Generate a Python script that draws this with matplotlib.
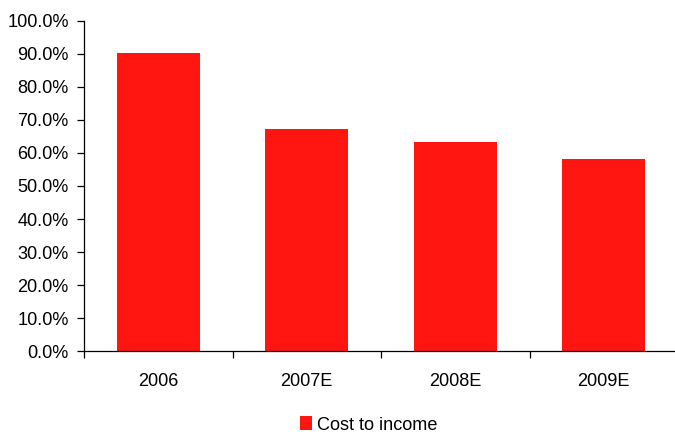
import matplotlib
matplotlib.use("Agg")
import matplotlib.pyplot as plt
from matplotlib.ticker import FuncFormatter, MultipleLocator, FixedLocator
import numpy as np

categories = ["2006", "2007E", "2008E", "2009E"]
cost_to_income = [90.2, 67.2, 63.3, 58.2]
series_name = "Cost to income"

plt.rcParams['font.family'] = ['Liberation Sans', 'DejaVu Sans']
FS = 13.1

fig = plt.figure(figsize=(6.75, 4.34), dpi=100)
ax = fig.add_axes([84/675, 1-351.3/434, (678-84)/675, (351.3-20.7)/434])

x = np.arange(len(categories))
ax.bar(x, cost_to_income, width=0.56, color="#FF1610", label=series_name, zorder=2)

ax.set_xlim(-0.5, len(categories) - 0.5)
ax.set_ylim(0, 100)
ax.yaxis.set_major_locator(MultipleLocator(10))
ax.yaxis.set_major_formatter(FuncFormatter(lambda v, p: f"{v:.1f}%"))

ax.xaxis.set_major_locator(FixedLocator(x))
ax.set_xticklabels(categories)
ax.xaxis.set_minor_locator(FixedLocator(np.arange(-0.5, len(categories), 1.0)))
ax.tick_params(axis="x", which="major", length=0, pad=15.5, labelsize=FS, colors="#000000")
ax.tick_params(axis="x", which="minor", length=5, width=0.9, color="#000000", direction="out")
ax.tick_params(axis="y", length=5, width=0.9, pad=6, labelsize=FS, colors="#000000", direction="out")

for s in ["top", "right"]:
    ax.spines[s].set_visible(False)
for s in ["left", "bottom"]:
    ax.spines[s].set_linewidth(0.9)
    ax.spines[s].set_color("#000000")

leg = fig.legend(loc="center", bbox_to_anchor=(369/675, 1-425/434), frameon=False,
                 fontsize=FS, handlelength=0.62, handleheight=0.75, handletextpad=0.3,
                 borderaxespad=0, borderpad=0)

fig.savefig("out.png", dpi=100)
